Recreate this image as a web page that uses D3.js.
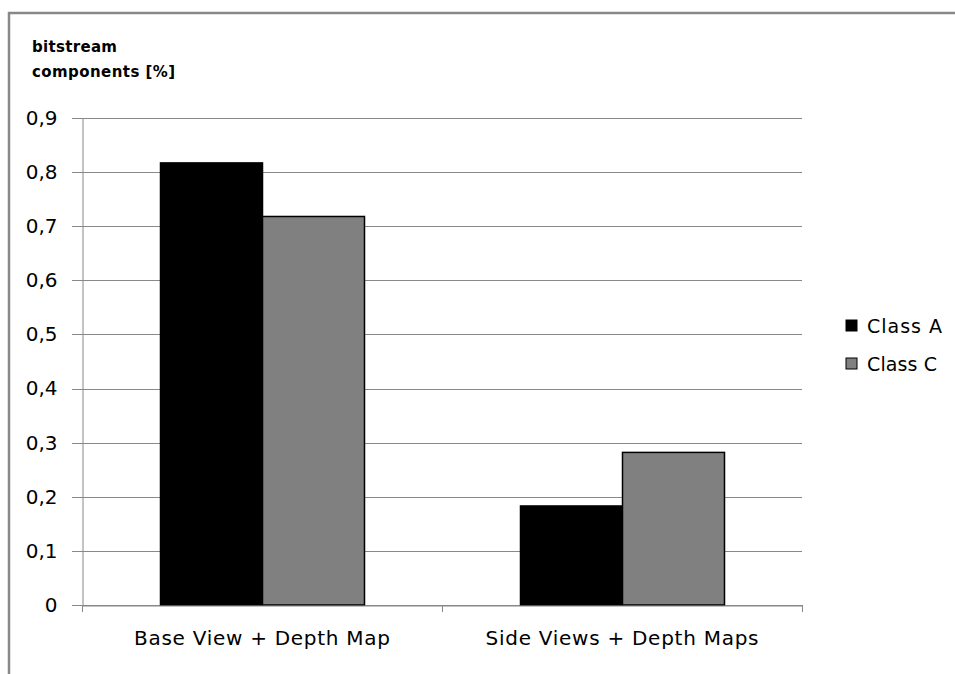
<!DOCTYPE html>
<html><head><meta charset="utf-8">
<script src="https://cdn.jsdelivr.net/npm/d3@7"></script>
<style>html,body{margin:0;padding:0;background:#fff;}svg{display:block;}</style>
</head><body>
<svg id="chart" width="955" height="674"></svg>
<script>
const categories = ["Base View + Depth Map", "Side Views + Depth Maps"];
const seriesNames = ["Class A", "Class C"];
const classA = [0.817, 0.183];
const classC = [0.718, 0.282];
const yTicks = [0, 0.1, 0.2, 0.3, 0.4, 0.5, 0.6, 0.7, 0.8, 0.9];
const colors = ["#000000", "#808080"];

(function () {
const svg = d3.select("#chart");
const font = "'DejaVu Sans', Verdana, sans-serif";

// outer frame
svg.append("path").attr("d", "M9,674 V13 H955").attr("fill", "none")
  .attr("stroke", "#888").attr("stroke-width", 2.5);

const pLeft = 82, pRight = 802, pTop = 118, pBottom = 605;
const x = d3.scaleBand().domain(categories).range([pLeft, pRight]).paddingInner(0).paddingOuter(0);
const y = d3.scaleLinear().domain([0, 0.9]).range([pBottom, pTop]);

// gridlines
svg.append("g").selectAll("line").data(yTicks).join("line")
  .attr("x1", pLeft - 10).attr("x2", pRight)
  .attr("y1", d => Math.round(y(d)) + 0.5).attr("y2", d => Math.round(y(d)) + 0.5)
  .attr("stroke", "#888").attr("stroke-width", 1);

// y axis
const yAxis = d3.axisLeft(y).tickValues(yTicks).tickSize(0).tickPadding(25)
  .tickFormat(d => d === 0 ? "0" : d3.format(".1f")(d).replace(".", ","));
const gy = svg.append("g").attr("transform", `translate(${pLeft + 0.5},0)`).call(yAxis);
gy.select(".domain").attr("stroke", "#888");
gy.selectAll("text").attr("font-family", font).attr("font-size", 20).attr("fill", "#000");

// bars
const inner = d3.scaleBand().domain(seriesNames).range([0, x.bandwidth()]).paddingInner(0).paddingOuter(156 / 204);
const data = categories.map((c, i) => ({ c, vals: [classA[i], classC[i]] }));
const groups = svg.append("g").selectAll("g").data(data).join("g")
  .attr("transform", d => `translate(${x(d.c)},0)`);
groups.selectAll("rect").data(d => d.vals.map((v, j) => ({ v, j }))).join("rect")
  .attr("x", d => inner(seriesNames[d.j]) + 0.5)
  .attr("width", inner.bandwidth())
  .attr("y", d => y(d.v))
  .attr("height", d => pBottom - y(d.v))
  .attr("fill", d => colors[d.j])
  .attr("stroke", "#000").attr("stroke-width", 1.5);

// x axis
const catWidths = [256, 273];
const xAxis = d3.axisBottom(x).tickSize(0).tickPadding(25);
const gx = svg.append("g").attr("transform", `translate(0,${pBottom + 0.5})`).call(xAxis);
gx.select(".domain").attr("stroke", "#888");
gx.selectAll("text").attr("font-family", font).attr("font-size", 20).attr("fill", "#000")
  .attr("textLength", (d, i) => catWidths[i]).attr("lengthAdjust", "spacing");
// category boundary ticks
const bounds = [pLeft, x(categories[1]), pRight];
svg.append("g").selectAll("line").data(bounds).join("line")
  .attr("x1", d => Math.round(d) + 0.5).attr("x2", d => Math.round(d) + 0.5)
  .attr("y1", pBottom).attr("y2", pBottom + 7).attr("stroke", "#888");

// axis title
const t = svg.append("text").attr("font-family", font).attr("font-size", 15).attr("font-weight", "bold").attr("fill", "#000");
t.append("tspan").attr("x", 32).attr("y", 52).attr("textLength", 85).attr("lengthAdjust", "spacing").text("bitstream");
t.append("tspan").attr("x", 32).attr("y", 77).attr("textLength", 143).attr("lengthAdjust", "spacing").text("components [%]");

// legend
const legWidths = [75, 70];
const lg = svg.append("g").selectAll("g").data(seriesNames).join("g")
  .attr("transform", (d, i) => `translate(846,${320 + i * 38})`);
lg.append("rect").attr("width", 11).attr("height", 11).attr("fill", (d, i) => colors[i])
  .attr("stroke", "#000").attr("stroke-width", 1);
lg.append("text").attr("x", 21).attr("y", 13).text(d => d)
  .attr("textLength", (d, i) => legWidths[i]).attr("lengthAdjust", "spacing")
  .attr("font-family", font).attr("font-size", 19).attr("fill", "#000");
})();
</script>
</body></html>
